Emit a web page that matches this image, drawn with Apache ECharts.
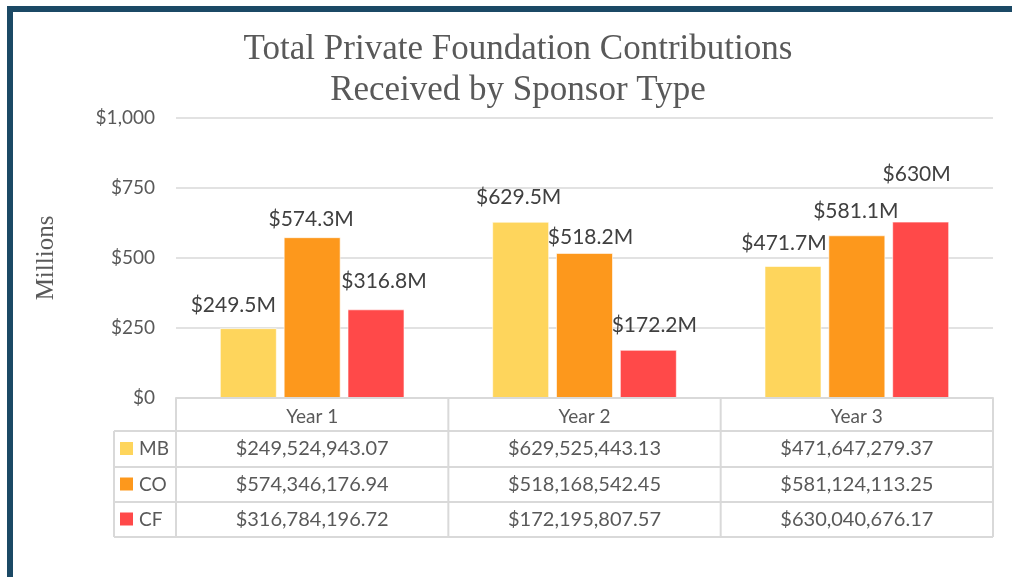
<!DOCTYPE html>
<html>
<head>
<meta charset="utf-8">
<script src="https://cdn.jsdelivr.net/npm/echarts/dist/echarts.min.js"></script>
<style>
  html, body { margin: 0; padding: 0; background: #fff; }
  #chart { width: 1012px; height: 577px; }
</style>
</head>
<body>
<div id="chart"></div>
<script>
// data
const years = ['Year 1', 'Year 2', 'Year 3'];
const seriesNames = ['MB', 'CO', 'CF'];
const mbValues = [249524943.07, 629525443.13, 471647279.37];
const coValues = [574346176.94, 518168542.45, 581124113.25];
const cfValues = [316784196.72, 172195807.57, 630040676.17];
// bar labels as printed on the chart
const mbLabels = ['$249.5M', '$629.5M', '$471.7M'];
const coLabels = ['$574.3M', '$518.2M', '$581.1M'];
const cfLabels = ['$316.8M', '$172.2M', '$630M'];
const yTicks = [0, 250, 500, 750, 1000];

// label nudges (Excel moved some labels to avoid overlap)
const labelOffsets = [
    [[-15, -7], [-2, -9], [-9, -7]],
    [[-1, -2], [6, 0], [-1, -9]],
    [[8, -13], [6, -9], [-4, -32]]
];
const colors = ['#fed55c', '#fd981c', '#ff4949'];

const gridLeft = 176;
const gridRight = 993;
const axisY = 398;
const rowLines = [398, 431, 467, 502, 537];
const textColor = '#595959';
const lineColor = '#d9d9d9';

const money = v => '$' + v.toLocaleString('en-US', { minimumFractionDigits: 2, maximumFractionDigits: 2 });

const allValues = [mbValues, coValues, cfValues];
const allLabels = [mbLabels, coLabels, cfLabels];

const series = allValues.map((vals, si) => ({
    name: seriesNames[si],
    type: 'bar',
    barWidth: 57,
    barGap: '12%',
    itemStyle: {
        color: colors[si],
        borderColor: 'rgba(255,255,255,0.6)',
        borderWidth: 1
    },
    data: vals.map((v, i) => ({
        value: v / 1e6,
        label: { offset: labelOffsets[si][i], formatter: allLabels[si][i] }
    })),
    label: {
        show: true,
        position: 'top',
        distance: 5,
        color: '#404040',
        fontFamily: 'Lato',
        fontSize: 21
    }
}));

// data table under the axis
const colW = (gridRight - gridLeft) / years.length;
const graphic = [];
// frame border of the slide
graphic.push({ type: 'rect', shape: { x: 7, y: 6, width: 6, height: 571 }, style: { fill: '#1b4965' } });
graphic.push({ type: 'rect', shape: { x: 7, y: 6, width: 1005, height: 6 }, style: { fill: '#1b4965' } });

const line = (x1, y1, x2, y2) => ({
    type: 'line',
    shape: { x1, y1, x2, y2 },
    style: { stroke: lineColor, lineWidth: 2 },
    z: 5
});
// horizontal lines
rowLines.forEach((y, i) => {
    graphic.push(line(i === 0 ? gridLeft : 114, y, gridRight, y));
});
// vertical lines
graphic.push(line(114, rowLines[1], 114, rowLines[4]));
for (let c = 0; c <= years.length; c++) {
    const x = gridLeft + c * colW;
    graphic.push(line(x, rowLines[0], x, rowLines[4]));
}
// rows
seriesNames.forEach((name, r) => {
    const yc = (rowLines[r + 1] + rowLines[r + 2]) / 2;
    graphic.push({ type: 'rect', shape: { x: 120, y: yc - 7, width: 13, height: 13 }, style: { fill: colors[r] } });
    graphic.push({
        type: 'text', x: 139, y: yc,
        style: { text: name, fill: textColor, font: '19px Lato', textAlign: 'left', textVerticalAlign: 'middle' }
    });
    allValues[r].forEach((v, c) => {
        graphic.push({
            type: 'text', x: gridLeft + colW * (c + 0.5), y: yc,
            style: { text: money(v), fill: textColor, font: '20px Lato', textAlign: 'center', textVerticalAlign: 'middle' }
        });
    });
});

const chart = echarts.init(document.getElementById('chart'));
chart.setOption({
    animation: false,
    backgroundColor: '#fff',
    title: {
        text: 'Total Private Foundation Contributions\nReceived by Sponsor Type',
        left: 513,
        top: 24,
        textAlign: 'center',
        textStyle: {
            fontFamily: 'Liberation Serif',
            fontSize: 35,
            fontWeight: 'normal',
            color: textColor,
            lineHeight: 41
        }
    },
    grid: {
        left: gridLeft,
        right: 1012 - gridRight,
        top: 118,
        bottom: 577 - axisY,
        containLabel: false
    },
    xAxis: {
        type: 'category',
        data: years,
        axisLine: { lineStyle: { color: lineColor, width: 2 } },
        axisTick: { show: false },
        axisLabel: {
            margin: 9,
            color: textColor,
            fontFamily: 'Lato',
            fontSize: 19
        }
    },
    yAxis: {
        type: 'value',
        min: yTicks[0],
        max: yTicks[yTicks.length - 1],
        interval: 250,
        name: 'Millions',
        nameLocation: 'middle',
        nameRotate: 90,
        nameGap: 117,
        nameTextStyle: {
            fontFamily: 'Liberation Serif',
            fontSize: 25,
            color: textColor
        },
        axisLine: { show: false },
        axisTick: { show: false },
        splitLine: { lineStyle: { color: lineColor, width: 1.5 } },
        axisLabel: {
            margin: 21,
            color: textColor,
            fontFamily: 'Lato',
            fontSize: 19,
            formatter: v => '$' + v.toLocaleString('en-US')
        }
    },
    graphic: graphic,
    series: series
});
</script>
</body>
</html>
